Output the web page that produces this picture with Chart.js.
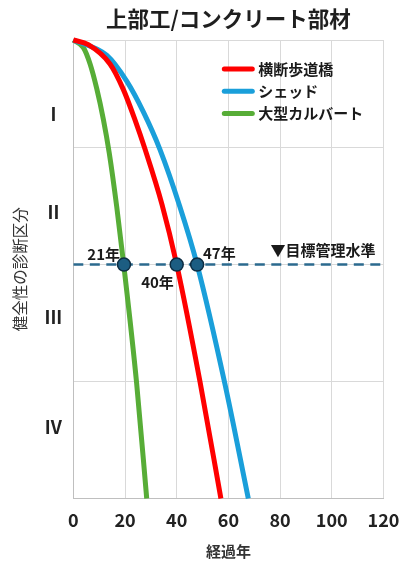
<!DOCTYPE html>
<html><head><meta charset="utf-8">
<script src="https://cdn.jsdelivr.net/npm/chart.js@4"></script>
<style>html,body{margin:0;padding:0;background:#fff}#wrap{width:401px;height:565px;position:relative}</style>
</head><body><div id="wrap"><canvas id="c"></canvas></div>
<script>
// ---- data ----
const titleText = '上部工/コンクリート部材';
const xTitle = '経過年';
const yTitle = '健全性の診断区分';
const seriesNames = ['横断歩道橋', 'シェッド', '大型カルバート'];
const seriesColors = ['#FF0000', '#1A9FDA', '#57AD37'];

const yearsBridge = [0, 5.8, 14.2, 19.3, 23.9, 27.7, 34.3, 40.0, 49.0, 57.1];
const healthBridge = [3.92, 3.88, 3.715, 3.50, 3.235, 2.99, 2.515, 2.0, 1.0, 0];

const yearsShed = [0, 12.9, 20.6, 27.1, 33.5, 41.2, 47.9, 58.6, 67.7];
const healthShed = [3.92, 3.79, 3.57, 3.305, 2.985, 2.497, 2.0, 0.985, 0];

const yearsCulvert = [0, 3.9, 6.5, 9.05, 11.6, 13.9, 16.8, 19.5, 24.5, 28.4];
const healthCulvert = [3.92, 3.855, 3.715, 3.506, 3.245, 2.955, 2.494, 2.0, 0.985, 0];

const targetLevel = 2;
const targetLabel = '▼目標管理水準';
const markerYears = [19.6, 40.0, 47.9];
const markerLabels = ['21年', '40年', '47年'];

const xTicks = [0, 20, 40, 60, 80, 100, 120];
const gridLevels = [0, 1, 2, 3, 3.92];
const bandLabels = ['I', 'II', 'III', 'IV'];
const bandLevels = [3.29, 2.45, 1.55, 0.61];
const yMin = 0, yMax = 3.92;

// ---- chart ----
const FONT = '"Noto Sans CJK JP", "Noto Sans", sans-serif';
const toXY = (xs, ys) => xs.map((v, i) => ({x: v, y: ys[i]}));

const overlay = {
  id: 'overlay',
  afterDatasetsDraw(chart) {
    const {ctx, chartArea: a, scales: {x, y}} = chart;
    ctx.save();
    ctx.font = 'bold 15px ' + FONT;
    ctx.fillStyle = '#1a1a1a';
    ctx.textAlign = 'center';
    ctx.textBaseline = 'middle';
    const yy = y.getPixelForValue(targetLevel);
    const offs = [[-20.3, -10], [-19.2, 17.8], [22.2, -11.5]];
    markerYears.forEach((m, i) => {
      ctx.fillText(markerLabels[i], x.getPixelForValue(m) + offs[i][0], yy + offs[i][1]);
    });
    ctx.fillText(targetLabel, a.right - 60.5, yy - 14.5);
    // legend
    ctx.textAlign = 'left';
    ctx.lineCap = 'round';
    ctx.lineWidth = 5;
    seriesNames.forEach((n, i) => {
      const ly = a.top + 29 + i * 22.2;
      ctx.strokeStyle = seriesColors[i];
      ctx.beginPath();
      ctx.moveTo(a.left + 151, ly);
      ctx.lineTo(a.left + 179, ly);
      ctx.stroke();
      ctx.fillText(n, a.left + 185, ly);
    });
    ctx.restore();
  }
};

const curve = (label, data, color) => ({
  type: 'line', label, data, borderColor: color, backgroundColor: color,
  borderWidth: 5, pointRadius: 0, fill: false, cubicInterpolationMode: 'monotone',
  clip: false, yAxisID: 'y'
});

new Chart(document.getElementById('c'), {
  type: 'scatter',
  data: {
    datasets: [
      {
        type: 'scatter', label: 'markers',
        data: markerYears.map(m => ({x: m, y: targetLevel})),
        pointRadius: 6.5, pointBackgroundColor: '#1C5D82', pointBorderColor: '#0C2C42',
        pointBorderWidth: 1.5, clip: false, yAxisID: 'y'
      },
      {
        type: 'line', label: 'target',
        data: [{x: xTicks[0], y: targetLevel}, {x: xTicks[xTicks.length - 1], y: targetLevel}],
        borderColor: '#2B6A8E', borderWidth: 2.5, borderDash: [10, 6.5], pointRadius: 0,
        fill: false, yAxisID: 'y'
      },
      curve(seriesNames[0], toXY(yearsBridge, healthBridge), seriesColors[0]),
      curve(seriesNames[1], toXY(yearsShed, healthShed), seriesColors[1]),
      curve(seriesNames[2], toXY(yearsCulvert, healthCulvert), seriesColors[2])
    ]
  },
  options: {
    responsive: true, maintainAspectRatio: false, animation: false,
    layout: {padding: {left: 0, right: 17.5, top: 0, bottom: 0}},
    plugins: {
      legend: {display: false},
      tooltip: {enabled: false},
      title: {
        display: true, text: titleText, fullSize: false, color: '#1f1f1f',
        font: {family: FONT, size: 21.5, weight: 'bold'}, padding: {top: 5.5, bottom: 8.7}
      }
    },
    scales: {
      x: {
        type: 'linear', min: xTicks[0], max: xTicks[xTicks.length - 1],
        afterBuildTicks: s => { s.ticks = xTicks.map(v => ({value: v})); },
        afterFit: s => { s.paddingLeft = 0; s.paddingRight = 0; },
        ticks: {font: {family: FONT, size: 18, weight: 'bold'}, color: '#222', padding: 11, maxRotation: 0},
        grid: {color: '#D9D9D9', drawTicks: false},
        border: {color: '#BFBFBF'},
        title: {display: true, text: xTitle, color: '#333', font: {family: FONT, size: 15, weight: 'bold'}, padding: {top: 0.6, bottom: 4.3}}
      },
      y: {
        type: 'linear', position: 'left', weight: 0, min: yMin, max: yMax,
        afterBuildTicks: s => { s.ticks = gridLevels.map(v => ({value: v})); },
        ticks: {display: false},
        grid: {color: '#D9D9D9', drawTicks: false},
        border: {color: '#BFBFBF'},
        afterFit: s => { s.width = 0; }
      },
      yl: {
        type: 'linear', position: 'left', weight: 1, min: yMin, max: yMax,
        afterBuildTicks: s => { s.ticks = bandLevels.map(v => ({value: v})); },
        ticks: {
          font: {family: FONT, size: 18, weight: 'bold'}, color: '#222', padding: 11,
          crossAlign: 'center', callback: (v, i) => bandLabels[i]
        },
        grid: {display: false, drawTicks: false},
        border: {display: false},
        title: {display: true, text: yTitle, color: '#333', font: {family: FONT, size: 15.5}, padding: {top: 10.7, bottom: 0}},
        afterFit: s => { s.width = 73.3; }
      }
    }
  },
  plugins: [overlay]
});
</script>
</body></html>
